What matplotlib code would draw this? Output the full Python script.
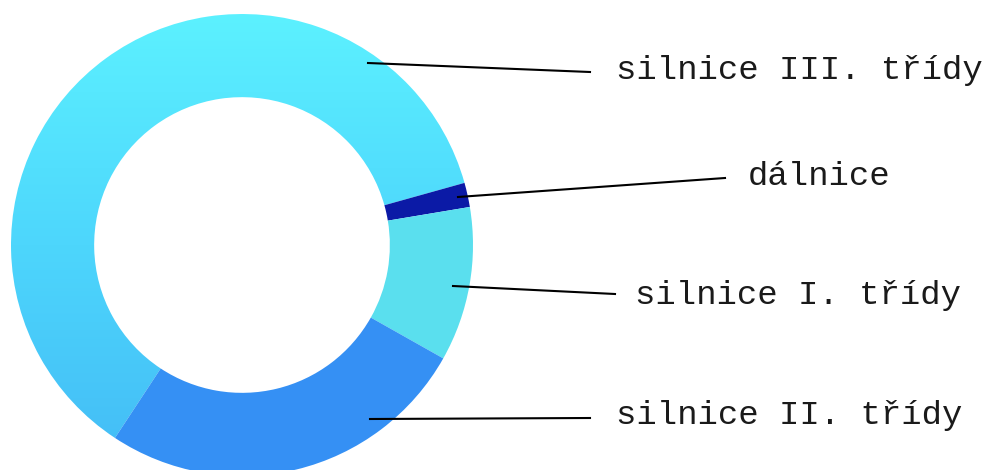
import numpy as np
import matplotlib
matplotlib.use("Agg")
import matplotlib.pyplot as plt
from matplotlib.colors import LinearSegmentedColormap

# share of road network (%), read from the ring
categories = ["dálnice", "silnice I. třídy", "silnice II. třídy", "silnice III. třídy"]
shares = [1.7, 10.8, 26.1, 61.4]
colors = ["#0b1aa6", "#5adfee", "#3590f4", "#4fdcfd"]

# label placement (pixel coords, y from top): anchor on ring, line end, text start, baseline
anchors = [(458, 197), (453, 286), (370, 419), (368, 63)]
line_ends = [(725, 178), (615, 294), (590, 418), (590, 72)]
text_pos = [(748, 185), (635, 304), (616, 424), (616, 79)]

W, H = 986, 470
fig = plt.figure(figsize=(W / 100, H / 100), dpi=100)
ax = fig.add_axes([0, 0, 1, 1])

cx, cy, R = 242, H - 245, 231
wedges, _ = ax.pie(shares, colors=colors, startangle=15.6, counterclock=False,
                   center=(cx, cy), radius=R,
                   wedgeprops=dict(width=R * 0.36, linewidth=0))

# gradient fill on the big segment
grad = LinearSegmentedColormap.from_list("g", ["#43bbf6", "#4dd6fc", "#5cf1ff"])
big = wedges[3]
big.set_facecolor("none")
img = ax.imshow(np.linspace(0, 1, 256).reshape(-1, 1), cmap=grad, origin="lower",
                extent=(cx - R, cx + R, cy - R, cy + R), aspect="auto", zorder=0.5)
img.set_clip_path(big)

for (ax0, ay0), (lx, ly), (tx, ty), name in zip(anchors, line_ends, text_pos, categories):
    ax.plot([ax0, lx], [H - ay0, H - ly], color="black", lw=1.5, zorder=3)
    ax.text(tx, H - ty, name, fontsize=24.5, family="Liberation Mono",
            color="#1a1a1a", va="baseline", ha="left")

ax.set_xlim(0, W)
ax.set_ylim(0, H)
ax.set_aspect("equal", adjustable="box")
ax.axis("off")

fig.savefig("out.png", dpi=100)
